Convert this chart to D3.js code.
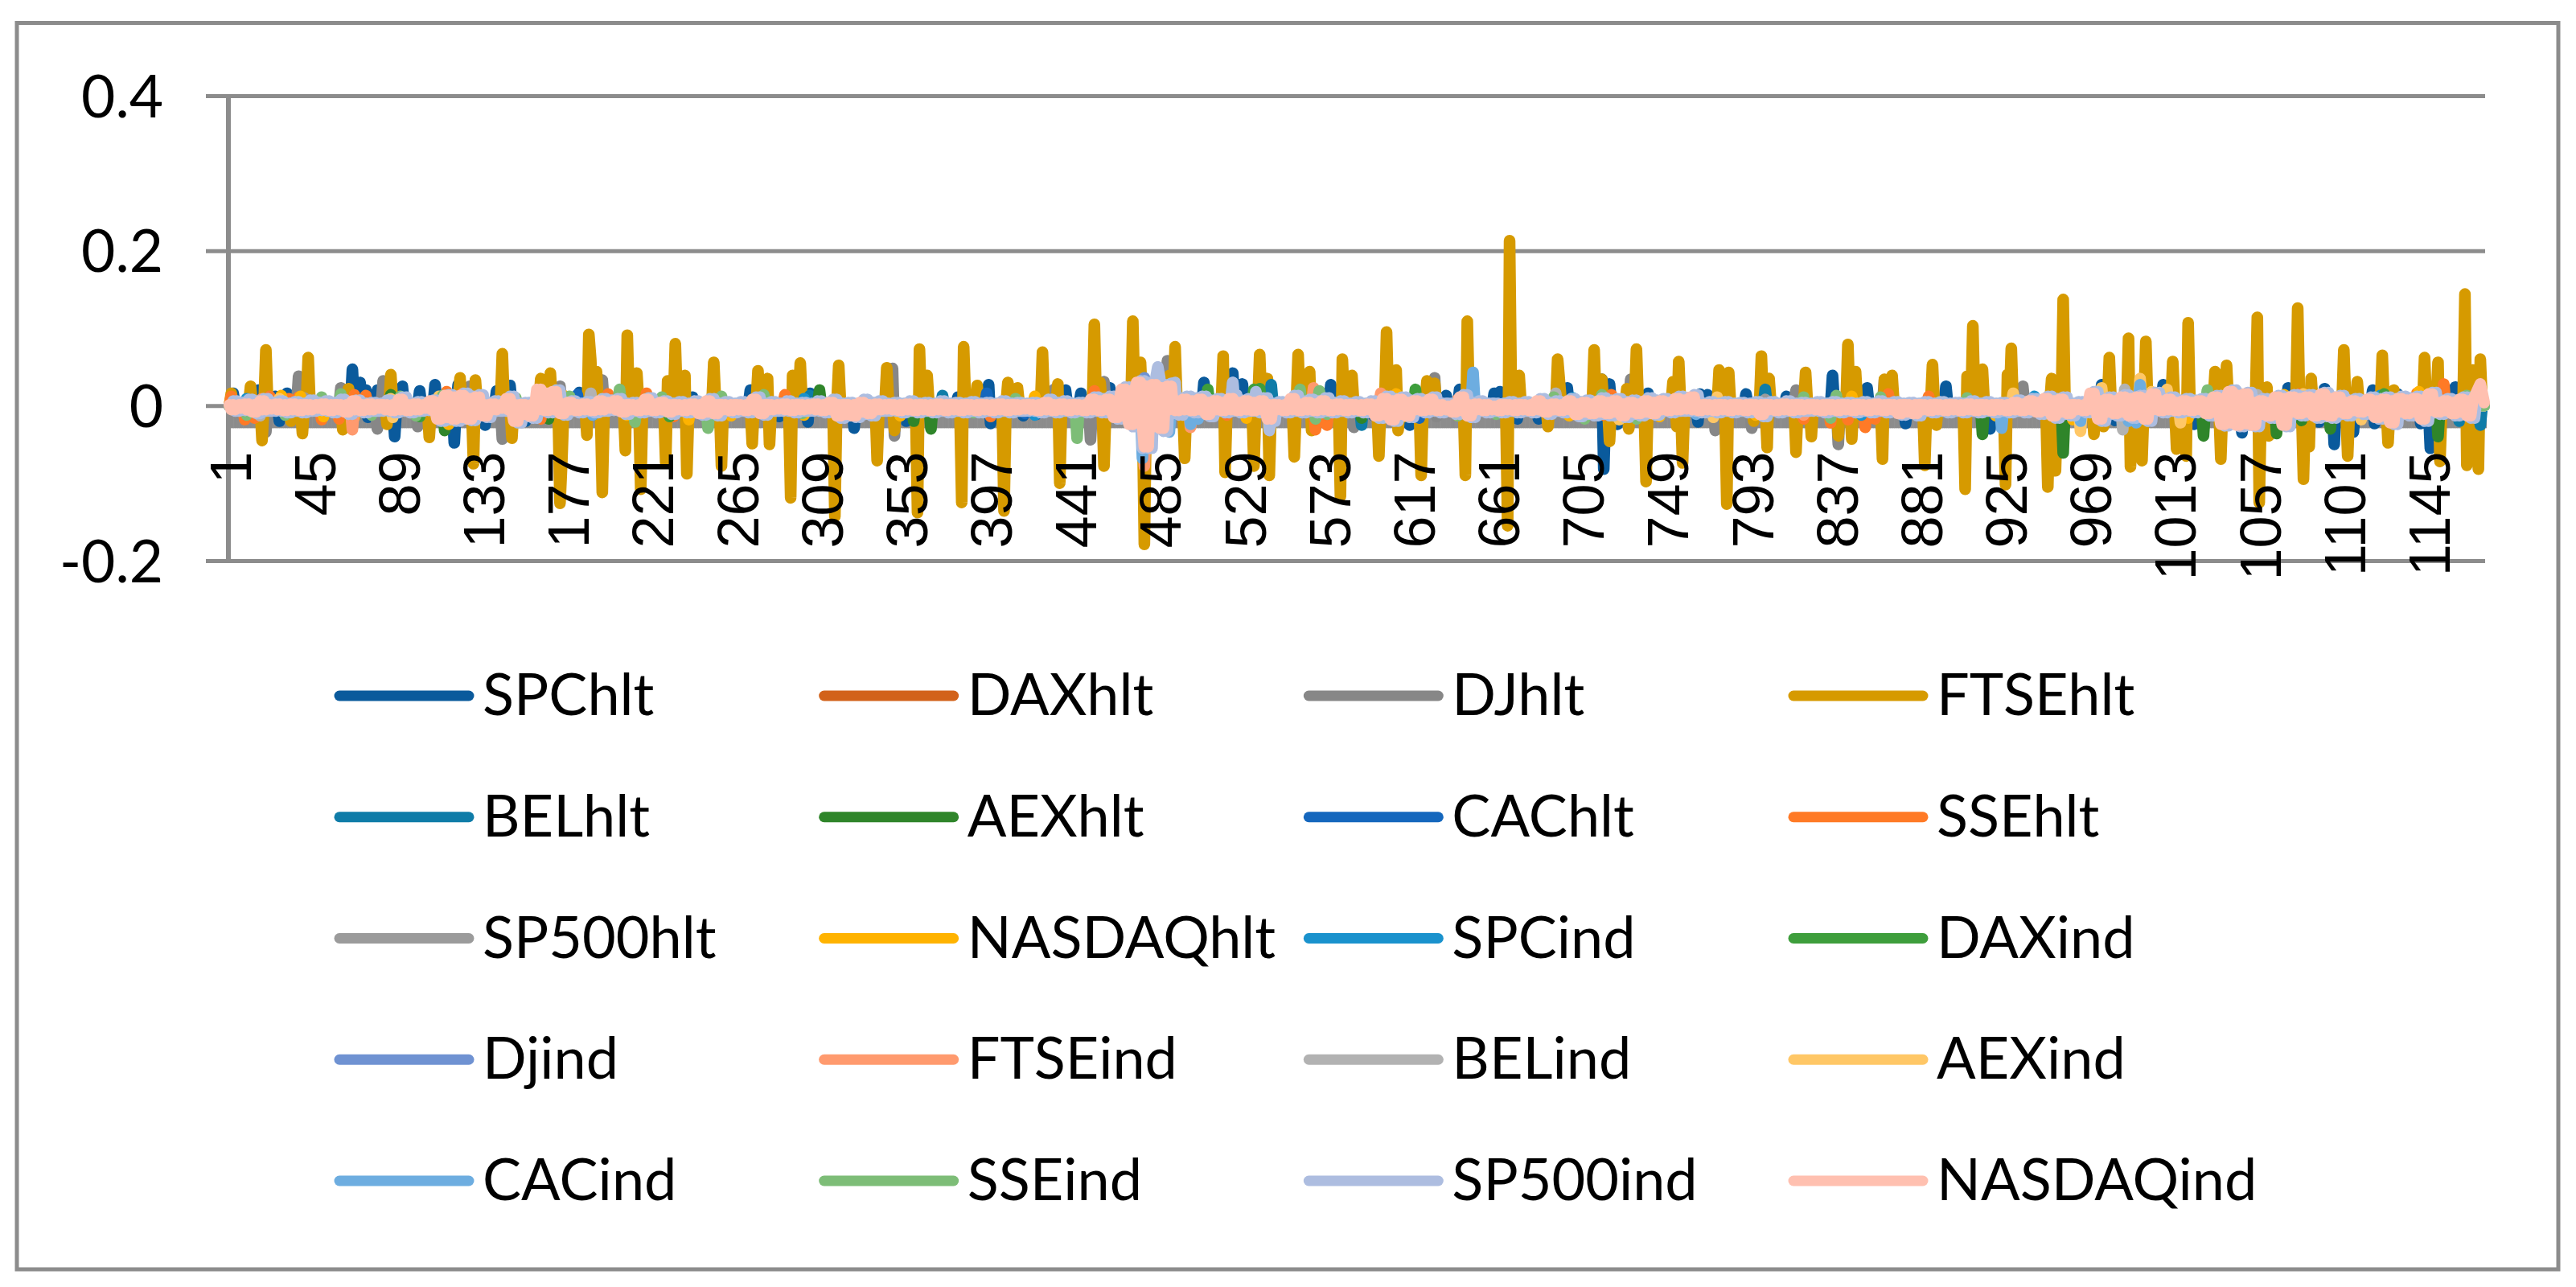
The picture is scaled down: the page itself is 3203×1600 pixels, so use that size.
<!DOCTYPE html>
<html><head><meta charset="utf-8">
<script src="https://cdn.jsdelivr.net/npm/d3@7"></script>
<style>html,body{margin:0;padding:0;background:#fff}svg{display:block}</style>
</head><body><svg id="c" width="3203" height="1600"></svg>
<script>
const N = 1174;
const yTicks = [-0.2, 0, 0.2, 0.4];
const xLabels = [1,45,89,133,177,221,265,309,353,397,441,485,529,573,617,661,705,749,793,837,881,925,969,1013,1057,1101,1145];
const names = ["SPChlt","DAXhlt","DJhlt","FTSEhlt","BELhlt","AEXhlt","CAChlt","SSEhlt","SP500hlt","NASDAQhlt","SPCind","DAXind","Djind","FTSEind","BELind","AEXind","CACind","SSEind","SP500ind","NASDAQind"];
const colors = ["#0a5a9c","#d2621a","#878787","#d69a00","#0f7ca8","#2f852a","#1567bd","#ff7a26","#9b9b9b","#ffb300","#1a92cd","#3e9e3c","#6f92d2","#ff9a6e","#b2b2b2","#ffc766","#6dade0","#7dbd77","#adbde0","#ffc0b0"];

const SPChlt = [[3,.016],[16,.020],[25,.012],[27,-.020],[31,.016],[65,.047],[69,.030],[72,.020],[73,-.015],[78,.020],[87,-.040],[91,.025],[100,.019],[108,.027],[118,-.048],[120,.027],[134,-.025],[140,.019],[147,.026],[155,-.020],[183,.017],[242,.011],[272,.020],[287,-.014],[302,-.021],[303,.016],[326,-.029],[353,-.020],[380,.011],[396,.027],[397,-.023],[409,.011],[414,-.013],[421,-.011],[436,.020],[444,.016],[459,.023],[508,.030],[523,.042],[528,.028],[574,.027],[596,-.012],[615,-.025],[634,.013],[641,.021],[659,.016],[662,.018],[671,-.017],[682,-.017],[697,.023],[715,.034],[716,-.082],[719,.028],[723,-.024],[739,.016],[765,-.021],[766,.015],[770,.014],[790,.015],[811,.012],[835,.039],[853,.023],[873,-.023],[894,.025],[917,-.030],[975,.027],[982,-.019],[1007,.027],[1023,-.024],[1048,-.035],[1072,.023],[1088,-.021],[1091,.022],[1096,-.050],[1106,-.034],[1116,.020],[1117,-.023],[1129,.015],[1141,-.023],[1146,-.055],[1159,.024]];
const DAXhlt = [[2,.012],[297,.014],[303,.006],[500,.010],[760,.010],[820,.012],[1000,.011]];
const DJhlt = [[20,-.034],[37,.038],[59,.023],[78,-.030],[81,.032],[99,-.027],[126,.025],[143,-.043],[173,.025],[195,.033],[346,.048],[347,-.039],[430,.021],[449,-.044],[456,.031],[489,.058],[586,-.028],[628,.036],[629,-.014],[730,.034],[774,-.032],[793,-.029],[816,.020],[838,-.050],[862,.033],[934,.025]];
const FTSEhlt = [[2,.016],[12,.025],[18,-.045],[20,.072],[33,-.020],[39,-.036],[42,.062],[60,-.031],[63,.022],[83,-.024],[85,.040],[105,-.041],[121,.036],[128,-.075],[129,.033],[143,.067],[148,-.042],[163,.035],[168,.042],[173,-.126],[174,-.070],[187,-.038],[188,.092],[189,.060],[192,.044],[195,-.112],[207,-.058],[208,.091],[213,.042],[215,-.108],[228,-.074],[229,.032],[233,.080],[238,.039],[239,-.088],[253,.056],[257,-.078],[273,-.049],[276,.045],[281,.035],[282,-.050],[293,-.119],[294,.039],[298,.055],[316,-.143],[318,.052],[338,-.071],[343,.049],[347,-.032],[359,-.138],[360,.073],[364,.039],[382,-.125],[383,.076],[390,.026],[404,-.136],[406,.030],[411,.023],[424,.069],[432,.028],[433,-.100],[451,.105],[454,.030],[456,-.078],[471,.109],[475,.056],[477,-.179],[490,.039],[493,.076],[498,-.068],[518,.064],[519,-.086],[534,-.078],[537,.066],[541,.035],[542,-.090],[555,-.066],[557,.066],[563,.044],[564,-.032],[579,-.117],[580,.060],[585,.039],[599,-.065],[603,.095],[608,.046],[609,-.032],[621,-.090],[624,.032],[628,.029],[644,-.090],[645,.109],[666,-.155],[667,.213],[672,.039],[687,-.027],[692,.060],[693,.030],[711,.072],[715,.034],[719,-.046],[728,.022],[729,-.030],[733,.073],[738,-.098],[752,.031],[754,-.027],[755,.057],[757,-.074],[776,.046],[780,-.127],[781,.043],[794,-.020],[798,.064],[801,-.054],[802,.035],[816,-.060],[821,.043],[824,-.040],[838,-.039],[843,.079],[845,-.043],[847,.044],[861,-.069],[862,.034],[866,.039],[883,-.077],[887,.053],[889,-.025],[904,-.108],[905,.038],[908,.103],[913,.047],[925,-.102],[926,.040],[928,.074],[947,-.105],[949,.035],[951,-.084],[955,.137],[971,-.037],[976,-.027],[979,.062],[989,.087],[990,-.079],[996,-.071],[998,.083],[1012,.057],[1014,-.056],[1019,-.065],[1020,.107],[1034,.044],[1037,-.069],[1040,.052],[1056,.114],[1057,-.125],[1061,.024],[1062,-.039],[1077,.126],[1080,-.095],[1083,-.053],[1084,.035],[1101,.072],[1103,-.065],[1108,.031],[1121,.065],[1124,-.048],[1127,.020],[1143,.062],[1150,.056],[1151,-.072],[1164,.144],[1165,-.077],[1168,.046],[1171,-.082],[1172,.060]];
const BELhlt = [[303,.013],[372,.013],[543,.027],[590,-.025],[800,.021],[1161,-.020],[1172,-.025]];
const AEXhlt = [[85,.014],[113,-.032],[167,-.017],[229,-.010],[308,.020],[357,-.020],[366,-.030],[590,-.016],[913,-.037],[955,-.061],[1028,-.039],[1066,-.036],[1079,-.019],[1094,-.030],[1150,-.040]];
const CAChlt = [[182,.014],[395,.016],[415,-.010],[620,-.016],[1150,.012]];
const SSEhlt = [[2,.012],[9,-.018],[14,-.016],[22,.012],[32,.009],[37,.011],[49,-.018],[58,-.017],[66,.014],[72,.013],[114,.018],[122,.016],[163,-.017],[198,.015],[218,.016],[232,-.014],[290,.014],[397,-.014],[451,.019],[520,-.012],[566,-.031],[572,-.025],[640,-.013],[716,-.012],[720,.014],[820,-.017],[834,-.022],[843,-.018],[852,-.028],[857,-.017],[864,.015],[885,.012],[1050,-.022],[1078,.015],[1139,.016],[1153,.028]];
const SP500hlt = [[40,.010],[300,.008],[800,.008]];
const NASDAQhlt = [[28,.013],[38,.012],[50,-.014],[66,-.015],[115,-.024],[122,.015],[150,-.013],[175,.013],[208,-.012],[240,-.018],[262,-.013],[300,-.012],[350,-.013],[420,.012],[530,-.016],[608,.015],[612,-.014],[698,-.013],[745,-.014],[795,-.012],[845,.012],[920,-.013],[960,-.018],[1020,-.016],[1070,.014],[1100,.012],[1125,-.015],[1140,.018]];
const SPCind = [[10,.009],[190,-.012],[300,.009],[420,-.012],[600,-.012],[700,.010],[850,-.012],[940,.012],[1010,.012],[1120,.013]];
const DAXind = [[100,-.014],[230,-.014],[510,.021],[534,.021],[537,.022],[618,.021],[1122,.015]];
const Djind = [[477,.036],[491,.020]];
const FTSEind = [[18,.009],[60,.010],[65,-.031],[118,.013],[477,-.078],[501,-.028],[565,.023],[600,.016],[640,.008],[820,-.012],[1100,.011]];
const BELind = [[17,-.013],[189,.016],[691,.016],[986,-.031],[987,.021],[1056,.014]];
const AEXind = [[27,.009],[85,.009],[86,-.015],[110,.012],[165,.010],[724,-.018],[773,-.015],[775,.011],[929,.016],[964,-.033],[975,.023],[995,.035],[1001,.018],[1009,.021],[1016,-.022],[1080,.015],[1110,-.018],[1125,-.014]];
const CACind = [[190,-.012],[476,-.068],[490,-.034],[501,-.024],[505,-.017],[523,.030],[648,.043],[764,-.011],[923,-.029],[964,-.020],[989,-.020],[993,-.022],[995,.027],[1140,-.012]];
const SSEind = [[10,-.012],[30,-.012],[49,.011],[59,.015],[75,-.012],[90,.012],[98,-.013],[112,.013],[125,.012],[150,.010],[160,-.012],[178,.012],[204,.021],[212,-.021],[218,.009],[226,.011],[250,-.029],[257,.012],[279,.014],[299,-.010],[320,-.011],[388,-.009],[410,.009],[442,-.042],[460,.010],[558,.021],[566,-.017],[568,.019],[572,-.011],[640,-.013],[660,-.011],[690,.011],[706,-.017],[715,.014],[733,-.017],[760,.009],[800,-.012],[820,.011],[834,-.016],[837,.013],[860,.011],[905,.010],[960,-.012],[1000,-.018],[1030,.020],[1090,.011],[1165,.013]];
const SP500indPeaks = [[476,-.055],[484,.050],[493,.030],[523,.030],[535,.018],[542,-.032]];

// SP500ind top and bottom edge of the band, in thousandths, read every eighth observation
const SP500indTop = [6,8,9,6,5,7,6,8,7,4,7,11,5,7,14,16,14,6,12,4,10,20,6,5,9,9,4,10,6,
 5,6,9,5,5,11,5,6,4,6,8,4,8,6,4,6,4,6,4,5,4,6,4,4,8,6,4,11,12,
 24,32,36,29,12,12,9,14,9,10,5,13,8,10,6,5,6,12,11,9,11,3,14,6,3,5,5,9,6,
 9,7,10,9,7,10,9,12,14,5,5,4,5,5,6,4,5,5,4,5,6,5,4,5,5,4,6,5,4,
 7,9,12,11,5,18,11,14,13,17,11,9,9,13,20,17,9,13,14,14,17,13,9,11,11,12,12,17,9,11];
const SP500indBottom = [-6,-10,-7,-9,-9,-6,-9,-11,-9,-7,-9,-9,-6,-20,-20,-19,-15,-7,-22,-16,-9,-12,-9,-9,-6,-11,-9,-9,-11,
 -9,-12,-13,-9,-9,-12,-7,-9,-7,-9,-16,-15,-13,-7,-9,-9,-9,-9,-9,-9,-9,-9,-7,-9,-9,-9,-9,-9,-17,
 -27,-55,-33,-12,-9,-14,-9,-9,-9,-20,-9,-9,-9,-9,-9,-9,-16,-20,-15,-9,-9,-11,-15,-9,-9,-9,-9,-11,-9,
 -14,-13,-13,-15,-13,-12,-9,-7,-9,-9,-9,-9,-14,-9,-9,-7,-9,-9,-9,-9,-9,-12,-13,-9,-9,-9,-9,-9,-9,
 -9,-11,-16,-13,-9,-20,-13,-16,-20,-9,-9,-9,-13,-26,-27,-27,-16,-27,-13,-16,-16,-13,-11,-17,-24,-13,-20,-11,-13,-16];
const SP500indQuiet = [3,-7];

// NASDAQind top and bottom edge of the pale band, in thousandths, read every eighth observation
const NASDAQindTop = [1,2,6,2,2,1,2,1,6,2,1,8,2,6,13,13,11,2,9,1,21,18,4,2,6,6,1,8,4,
 1,2,6,1,1,8,1,2,1,2,4,1,4,2,1,2,1,2,1,1,1,2,1,1,4,2,1,8,8,
 21,30,27,25,8,8,6,9,6,6,1,9,4,6,2,1,2,9,8,6,8,-1,11,2,-1,1,1,6,2,
 6,4,6,6,4,6,6,9,11,1,1,1,1,1,2,1,1,1,1,1,2,1,1,1,1,1,2,1,1,
 4,6,9,8,1,16,8,11,11,15,8,6,6,11,18,15,6,11,11,11,15,11,6,8,8,9,9,15,6,8];
const NASDAQindBottom = [-3,-8,-4,-6,-6,-3,-6,-8,-6,-3,-6,-6,-3,-17,-17,-17,-13,-3,-20,-13,-6,-10,-6,-6,-3,-8,-6,-6,-8,
 -6,-10,-10,-6,-6,-10,-4,-6,-4,-6,-13,-13,-10,-4,-6,-6,-6,-6,-6,-6,-6,-6,-4,-6,-6,-6,-6,-6,-15,
 -24,-53,-29,-6,-6,-11,-6,-6,-6,-17,-6,-6,-6,-6,-6,-6,-13,-18,-13,-6,-6,-8,-13,-6,-6,-6,-6,-8,-6,
 -11,-10,-10,-13,-10,-10,-6,-4,-6,-6,-6,-6,-11,-6,-6,-4,-6,-6,-6,-6,-6,-10,-10,-6,-6,-6,-6,-6,-6,
 -6,-8,-13,-10,-6,-17,-10,-13,-17,-6,-6,-6,-10,-24,-25,-25,-13,-25,-10,-13,-13,-10,-8,-15,-22,-10,-17,-8,-10,-13];
const NASDAQindQuiet = [1,-5];
const NASDAQindEnd = [[1172,.028],[1174,.004]];

const sparse = [SPChlt,DAXhlt,DJhlt,FTSEhlt,BELhlt,AEXhlt,CAChlt,SSEhlt,SP500hlt,NASDAQhlt,SPCind,DAXind,Djind,FTSEind,BELind,AEXind,CACind,SSEind];

const svg = d3.select("#c");
svg.append("rect").attr("width",3203).attr("height",1600).attr("fill","#fff");
svg.append("rect").attr("x",21).attr("y",28.5).attr("width",3160).attr("height",1549.5)
   .attr("fill","#fff").attr("stroke","#8c8c8c").attr("stroke-width",5);

const x = d3.scaleLinear().domain([0.5,N+0.5]).range([284,3090]);
const y = d3.scaleLinear().domain([-0.2,0.4]).range([697,119]);
const axisColor = "#8c8c8c";

// horizontal gridlines and value axis
const yAxis = svg.append("g").attr("transform","translate(284,0)")
  .call(d3.axisLeft(y).tickValues(yTicks).tickSize(28).tickPadding(53).tickFormat(d=>String(d)));
yAxis.select(".domain").attr("stroke",axisColor).attr("stroke-width",6).attr("d","M0,119V697");
yAxis.selectAll(".tick line").attr("stroke",axisColor).attr("stroke-width",5).attr("x1",2806).attr("x2",-28);
yAxis.selectAll("text").attr("fill","#000").attr("font-family","Lato").attr("font-size",73).attr("dy",".36em");

// dense category tick marks under the zero line
const tickG = svg.append("g").attr("transform",`translate(0,${y(0)})`)
  .call(d3.axisBottom(x).tickValues(d3.range(0.5,N+1,1)).tickSize(28).tickFormat(""));
tickG.select(".domain").attr("stroke",axisColor).attr("stroke-width",5).attr("d","M284,0H3090");
tickG.selectAll(".tick line").attr("stroke",axisColor).attr("stroke-width",3);
tickG.selectAll("text").remove();

// series
const line = d3.line().x(d=>x(d[0])).y(d=>y(d[1])).curve(d3.curveLinear);
const dense = pairs => {
  const m = new Map(pairs.map(p=>[p[0],p[1]]));
  return d3.range(1,N+1).map(i=>[i, m.has(i)?m.get(i):0]);
};
// a series that oscillates every observation: each block of eight runs between the
// block's read edges, with the gaps held near the lesser neighbouring edge
const band = (top,bottom,start,quiet,extra) => {
  const m = new Map();
  top.forEach((t,k)=>{
    const b = bottom[k];
    const c = Math.max(quiet[0], Math.min(t, k+1<top.length?top[k+1]:t)-2);
    const f = Math.min(quiet[1], Math.max(b, k>0?bottom[k-1]:b)+2);
    [t,f,t,f,b,c,b,c].forEach((v,o)=>m.set(start+8*k+o,v/1000));
  });
  extra.forEach(p=>m.set(p[0],p[1]));
  return Array.from(m).filter(p=>p[0]<=N).sort((a,b)=>a[0]-b[0]);
};
const seriesData = sparse.map(dense).concat([
  band(SP500indTop,SP500indBottom,3,SP500indQuiet,SP500indPeaks),
  band(NASDAQindTop,NASDAQindBottom,1,NASDAQindQuiet,NASDAQindEnd)
]);

svg.append("g").selectAll("path").data(seriesData).join("path")
  .attr("d",line).attr("fill","none")
  .attr("stroke",(d,i)=>colors[i]).attr("stroke-width",14.5)
  .attr("stroke-linejoin","round").attr("stroke-linecap","round");

// rotated category labels
const labelG = svg.append("g").attr("transform",`translate(0,${y(0)})`)
  .call(d3.axisBottom(x).tickValues(xLabels).tickSize(0).tickFormat(d=>String(d)));
labelG.select(".domain").remove();
labelG.selectAll("text").attr("transform","rotate(-90)").attr("x",-57).attr("y",0).attr("dy",".36em")
  .attr("text-anchor","end").attr("fill","#000").attr("font-family","'Liberation Sans'").attr("font-size",72);

// legend
const legendX = d3.scaleLinear().domain([0,3]).range([416,2224]);
const legendY = d3.scaleLinear().domain([0,4]).range([865,1468]);
const leg = svg.append("g").selectAll("g").data(names).join("g")
  .attr("transform",(d,i)=>`translate(${legendX(i%4)},${legendY(Math.floor(i/4))})`);
leg.append("line").attr("x1",6).attr("x2",167).attr("y1",0).attr("y2",0)
  .attr("stroke",(d,i)=>colors[i]).attr("stroke-width",13).attr("stroke-linecap","round");
leg.append("text").attr("x",184).attr("y",24).text(d=>d)
  .attr("fill","#000").attr("font-family","Lato").attr("font-size",72);
</script></body></html>
